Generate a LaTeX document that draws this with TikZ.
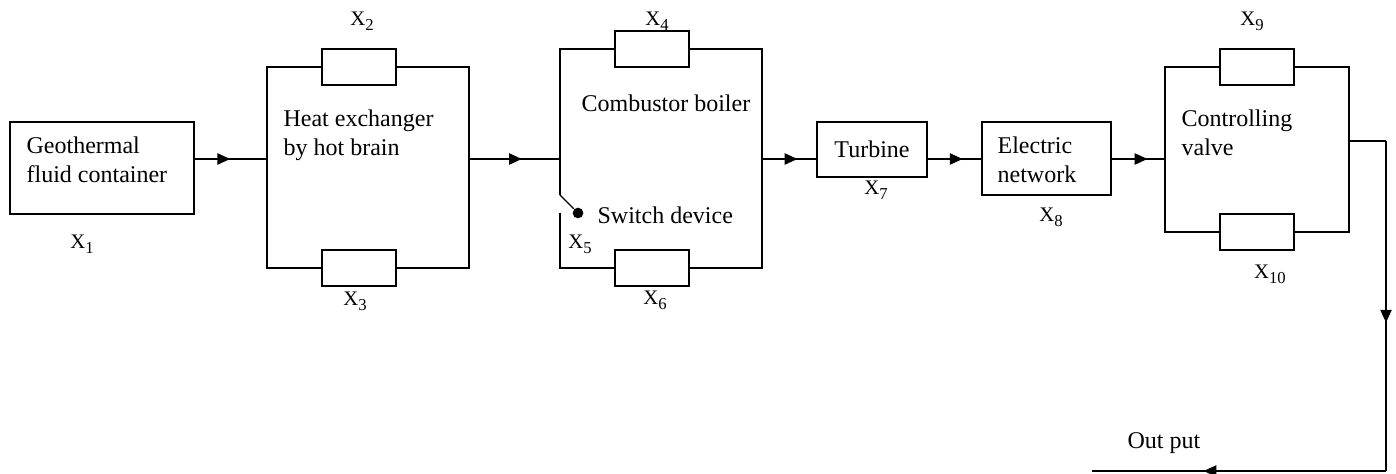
\documentclass[tikz,border=0pt]{standalone}
\usepackage{fontspec}
\setmainfont{Liberation Serif}
\usetikzlibrary{arrows.meta,positioning,calc,decorations.markings}

\newcommand{\xlab}[1]{X\raisebox{-3.5pt}{\fontsize{12.5}{13}\selectfont#1}}

\begin{document}
\begin{tikzpicture}[
    x=0.75pt, y=-0.75pt,
    line width=0.9pt,
    every node/.style={inner sep=0pt},
    unit/.style={draw, rectangle},
    part/.style={draw, rectangle, minimum width=55.5pt, minimum height=27pt},
    txt/.style={font=\fontsize{18}{21.5}\selectfont, align=left},
    lbl/.style={font=\fontsize{15.5}{16}\selectfont},
    flow/.style={postaction={decorate, decoration={markings,
        mark=at position #1 with {\arrow{Triangle[length=9.5pt, width=8.5pt]}}}}},
]
\useasboundingbox (0,0) rectangle (1396,474);

\node[unit, minimum width=138pt, minimum height=69pt] (geo) at (102,168) {};
\node[txt, anchor=north west] at (26,136.6) {Geothermal\\fluid container};
\node[lbl] (x1lab) at (82,244) {\xlab{1}};

\coordinate (hxL) at (267,159);
\coordinate (hxR) at (469,159);
\node[part] (x2) at (359,67) {};
\node[part] (x3) at (359,268) {};
\node[txt, anchor=north west] at (283,109.6) {Heat exchanger\\by hot brain};
\node[lbl] (x2lab) at (362,21) {\xlab{2}};
\node[lbl] (x3lab) at (355,301) {\xlab{3}};
\draw[flow=0.49] (geo.east |- hxL) -- (hxL);
\draw (hxL) |- (x2.west);
\draw (hxL) |- (x3.west);
\draw (x2.east) -| (hxR);
\draw (x3.east) -| (hxR);

\coordinate (cbL) at (560,159);
\coordinate (cbR) at (762,159);
\coordinate (swTop) at (560,195);
\coordinate (swLow) at (560,213);
\node[part] (x4) at (652,49) {};
\node[part] (x6) at (652,268) {};
\node[circle, fill, minimum size=8pt] (sw) at (578,213) {};
\node[txt, anchor=west] at (581,103) {Combustor boiler};
\node[txt, anchor=west] at (597,215) {Switch device};
\node[lbl] (x4lab) at (657,21) {\xlab{4}};
\node[lbl] (x5lab) at (580,244) {\xlab{5}};
\node[lbl] (x6lab) at (655,300) {\xlab{6}};
\draw[flow=0.58] (hxR) -- (cbL);
\draw (swTop) |- (x4.west);
\draw (swTop) -- (sw);
\draw (swLow) |- (x6.west);
\draw (x4.east) -| (cbR);
\draw (x6.east) -| (cbR);

\node[unit, txt, minimum width=82.5pt, minimum height=41.25pt] (turb) at (872,149.5) {Turbine};
\node[lbl] (x7lab) at (876,190) {\xlab{7}};
\draw[flow=0.65] (cbR) -- (cbR -| turb.west);

\node[unit, minimum width=96.75pt, minimum height=54.75pt] (elec) at (1046.5,158.5) {};
\node[txt, anchor=north west] at (997,136.6) {Electric\\network};
\node[lbl] (x8lab) at (1051,217) {\xlab{8}};
\draw[flow=0.65] (turb.east |- cbR) -- (elec.west |- cbR);

\coordinate (vL) at (1165,159);
\coordinate (vR) at (1349,141);
\node[part] (x9) at (1257,67) {};
\node[part] (x10) at (1257,232) {};
\node[txt, anchor=north west] at (1181,109.6) {Controlling\\valve};
\node[lbl] (x9lab) at (1252,21) {\xlab{9}};
\node[lbl] (x10lab) at (1270,274) {\xlab{10}};
\draw[flow=0.67] (elec.east |- vL) -- (vL);
\draw (vL) |- (x9.west);
\draw (vL) |- (x10.west);
\draw (x9.east) -| (vR);
\draw (x10.east) -| (vR);

\coordinate (o1) at (1386,141);
\coordinate (o2) at (1386,471);
\coordinate (oEnd) at (1092,471);
\node[txt, anchor=west] at (1127,443) {Out put};
\draw (vR) -- (o1);
\draw[flow=0.55] (o1) -- (o2);
\draw[flow=0.62] (o2) -- (oEnd);
\end{tikzpicture}
\end{document}
